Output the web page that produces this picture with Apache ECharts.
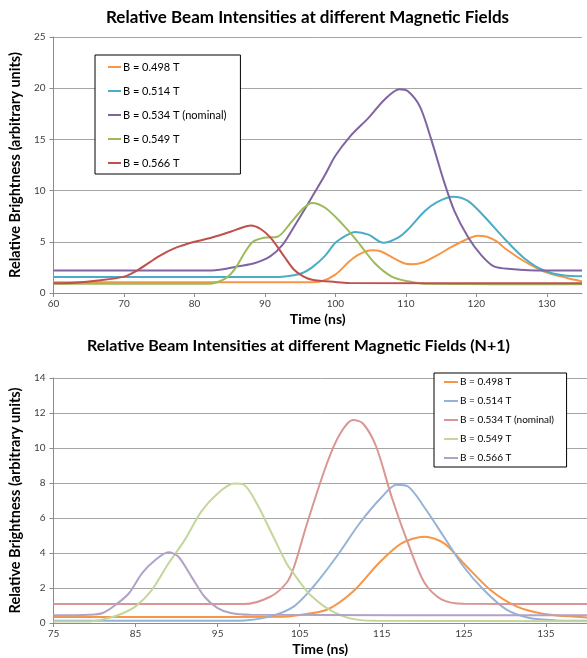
<!DOCTYPE html>
<html>
<head>
<meta charset="utf-8">
<script src="https://cdn.jsdelivr.net/npm/echarts@6/dist/echarts.min.js"></script>
<style>html,body{margin:0;padding:0;background:#fff}#c{width:587px;height:658px}</style>
</head>
<body>
<div id="c"></div>
<script>
// ---------- Chart 1: Relative Beam Intensities at different Magnetic Fields ----------
const title1 = 'Relative Beam Intensities at different Magnetic Fields';
const title2 = 'Relative Beam Intensities at different Magnetic Fields (N+1)';
const seriesNames = ['B = 0.498 T', 'B = 0.514 T', 'B = 0.534 T (nominal)', 'B = 0.549 T', 'B = 0.566 T'];

const top498X = [60, 70, 80, 90, 96, 98, 100, 102, 103.3, 105.2, 106.5, 108, 110, 111, 112.5, 114.5, 116.5, 118.5, 120.2, 121.5, 123, 124, 126.8, 129.6, 132.9, 135];
const top498Y = [1.05, 1.05, 1.05, 1.05, 1.05, 1.15, 1.8, 3.1, 3.75, 4.17, 4.05, 3.5, 2.85, 2.8, 3.0, 3.7, 4.5, 5.2, 5.6, 5.5, 5.0, 4.4, 3.1, 2.1, 1.47, 1.14];

const top514X = [60, 80, 92, 93.9, 95.5, 96.7, 98.5, 100, 101.5, 102.8, 104.7, 106.8, 108.9, 110.3, 112.7, 114.5, 116.7, 118.8, 121.1, 124, 126.8, 129.6, 132.5, 135];
const top514Y = [1.56, 1.56, 1.56, 1.7, 2.0, 2.5, 3.6, 4.9, 5.6, 5.96, 5.7, 4.9, 5.4, 6.2, 8.0, 8.9, 9.4, 9.0, 7.5, 5.3, 3.4, 2.2, 1.7, 1.63];

const top534X = [60, 82, 84.3, 86.2, 88.5, 90.8, 92.5, 93.9, 95.5, 96.7, 98.5, 100, 102.1, 104.7, 107, 109.1, 110.3, 112, 113.6, 115.5, 116.9, 118.8, 120.7, 122.5, 124.9, 129.6, 135];
const top534Y = [2.2, 2.2, 2.35, 2.6, 2.9, 3.6, 4.7, 6.2, 8.0, 9.4, 11.5, 13.4, 15.3, 17.1, 18.9, 19.9, 19.7, 18.2, 15.0, 10.7, 8.0, 5.5, 3.7, 2.6, 2.35, 2.2, 2.2];

const top549X = [60, 82, 84.3, 85.7, 87.1, 88.3, 89.9, 91.8, 93.6, 95.5, 96.7, 98.6, 100.9, 103.3, 105.6, 108, 110.3, 112.7, 135];
const top549Y = [0.9, 0.9, 1.37, 2.3, 3.9, 5.0, 5.4, 5.5, 6.8, 8.3, 8.8, 8.3, 6.8, 4.9, 2.9, 1.6, 1.14, 0.9, 0.85];

const top566X = [60, 63, 66, 70, 72.1, 75, 77.3, 80, 82.4, 85.2, 86.6, 88, 89.4, 90.8, 92.7, 94.1, 95.5, 96.7, 100, 101.9, 135];
const top566Y = [0.95, 1.0, 1.2, 1.6, 2.3, 3.6, 4.4, 5.0, 5.4, 6.0, 6.35, 6.6, 6.25, 5.4, 3.6, 2.3, 1.6, 1.3, 1.07, 0.98, 0.95];

// ---------- Chart 2: (N+1) ----------
const bot498X = [75, 90, 103, 104.3, 108.3, 111.5, 114.6, 117.4, 120.2, 122.6, 125, 128.2, 131.4, 134.6, 137.8, 140];
const bot498Y = [0.34, 0.34, 0.36, 0.42, 0.76, 1.8, 3.4, 4.55, 4.93, 4.55, 3.4, 1.9, 0.95, 0.53, 0.38, 0.32];

const bot514X = [75, 97.4, 101.4, 104.3, 106.7, 109.5, 112.3, 115, 116.8, 118.2, 120.2, 122.6, 125, 127.4, 130.2, 133, 136.2, 140];
const bot514Y = [0.13, 0.13, 0.38, 0.95, 2.1, 3.8, 5.7, 7.2, 7.9, 7.8, 6.6, 4.9, 3.2, 1.9, 0.76, 0.28, 0.15, 0.13];

const bot534X = [75, 98.2, 101.4, 103.4, 104.3, 105.9, 108.3, 109.9, 111.5, 112.7, 114.3, 116.2, 118.2, 120.2, 122.2, 125, 140];
const bot534Y = [1.08, 1.08, 1.5, 2.3, 3.2, 5.7, 9.1, 10.8, 11.6, 11.4, 10.1, 7.2, 4.55, 2.3, 1.37, 1.1, 1.08];

const bot549X = [75, 79, 81, 83, 85, 87, 89, 91, 93, 95, 97, 98.2, 99.8, 101.4, 103.4, 104.3, 105.4, 106.3, 108.3, 111, 114.2, 140];
const bot549Y = [0.08, 0.08, 0.2, 0.47, 0.95, 1.9, 3.4, 4.75, 6.36, 7.4, 7.97, 7.9, 6.8, 5.3, 3.4, 2.8, 2.1, 1.6, 0.85, 0.28, 0.13, 0.1];

const bot566X = [75, 79.4, 81, 82.6, 84.2, 85.8, 87.4, 89, 90.2, 91.8, 93.4, 95, 96.6, 99, 140];
const bot566Y = [0.44, 0.47, 0.57, 1.05, 1.7, 2.85, 3.6, 4.04, 3.8, 2.65, 1.5, 0.85, 0.57, 0.47, 0.44];

const topXTicks = { min: 60, max: 135, interval: 10 };
const topYTicks = { min: 0, max: 25, interval: 5 };
const botXLabels = [75, 85, 95, 105, 115, 125, 135];
const botYTicks = { min: 0, max: 14, interval: 2 };

const topColors = ['#F79646', '#4BACC6', '#8064A2', '#9BBB59', '#C0504D'];
const botColors = ['#F79646', '#95B3D7', '#D99694', '#C3D69B', '#B3A2C7'];

const zip = (xs, ys) => xs.map((x, i) => [x, ys[i]]);
const topData = [zip(top498X, top498Y), zip(top514X, top514Y), zip(top534X, top534Y), zip(top549X, top549Y), zip(top566X, top566Y)];
const botData = [zip(bot498X, bot498Y), zip(bot514X, bot514Y), zip(bot534X, bot534Y), zip(bot549X, bot549Y), zip(bot566X, bot566Y)];

const FONT = 'Lato, "Open Sans", sans-serif';
const axisLabelStyle = { fontFamily: FONT, fontSize: 10, color: '#404040' };
const nameStyle = { fontFamily: FONT, fontSize: 14.5, fontWeight: 'bold', color: '#000' };
const xNameStyle = { fontFamily: FONT, fontSize: 14, fontWeight: 'bold', color: '#000' };
const axisLineStyle = { lineStyle: { color: '#8c8c8c', width: 1 } };
const tickStyle = { show: true, length: 4, inside: false, lineStyle: { color: '#8c8c8c' } };
const splitStyle = { show: true, lineStyle: { color: '#a6a6a6', width: 1 } };

const chart = echarts.init(document.getElementById('c'), null, { renderer: 'canvas' });

const series = [];
seriesNames.forEach((n, i) => {
  series.push({
    name: n, type: 'line', xAxisIndex: 0, yAxisIndex: 0, data: topData[i],
    showSymbol: false, smooth: 0.3, lineStyle: { width: 2, color: topColors[i] }, itemStyle: { color: topColors[i] }
  });
});
seriesNames.forEach((n, i) => {
  series.push({
    name: n + ' ', type: 'line', xAxisIndex: 1, yAxisIndex: 1, data: botData[i],
    showSymbol: false, smooth: 0.3, lineStyle: { width: 2, color: botColors[i] }, itemStyle: { color: botColors[i] }
  });
});

chart.setOption({
  animation: false,
  backgroundColor: '#fff',
  title: [
    { text: title1, left: 106, top: 9, padding: 0, textStyle: { fontFamily: FONT, fontSize: 17, fontWeight: 'bold', color: '#000' } },
    { text: title2, left: 87, top: 338, padding: 0, textStyle: { fontFamily: FONT, fontSize: 16, fontWeight: 'bold', color: '#000' } }
  ],
  grid: [
    { left: 47, right: 5, top: 37, bottom: 365, containLabel: false },
    { left: 47, right: 0, top: 378, bottom: 35, containLabel: false }
  ],
  legend: [
    {
      data: seriesNames, orient: 'vertical', left: 95, top: 55,
      padding: [5, 14, 4, 13], itemGap: 10, itemWidth: 13, itemHeight: 2, icon: 'rect',
      borderColor: '#000', borderWidth: 1, backgroundColor: '#fff',
      textStyle: { fontFamily: FONT, fontSize: 11, color: '#000', lineHeight: 14, padding: [0, 0, 0, -3] }
    },
    {
      data: seriesNames.map(n => n + ' '), orient: 'vertical', left: 434, top: 373,
      padding: [3, 10, 3, 10], itemGap: 7, itemWidth: 14, itemHeight: 2, icon: 'rect',
      borderColor: '#000', borderWidth: 1, backgroundColor: '#fff',
      textStyle: { fontFamily: FONT, fontSize: 10, color: '#000', lineHeight: 12, padding: [0, 0, 0, -3] }
    }
  ],
  xAxis: [
    {
      type: 'value', gridIndex: 0, min: topXTicks.min, max: topXTicks.max, interval: topXTicks.interval,
      name: 'Time (ns)', nameLocation: 'middle', nameGap: 19, nameTextStyle: xNameStyle,
      axisLine: axisLineStyle, axisTick: tickStyle, splitLine: { show: false },
      axisLabel: Object.assign({ margin: 6, showMaxLabel: false }, axisLabelStyle)
    },
    {
      type: 'value', gridIndex: 1, min: 75, max: 140,
      name: 'Time (ns)', nameLocation: 'middle', nameGap: 19, nameTextStyle: xNameStyle,
      axisLine: axisLineStyle, axisTick: Object.assign({ customValues: botXLabels }, tickStyle), splitLine: { show: false },
      axisLabel: Object.assign({ margin: 6, customValues: botXLabels }, axisLabelStyle)
    }
  ],
  yAxis: [
    {
      type: 'value', gridIndex: 0, min: topYTicks.min, max: topYTicks.max, interval: topYTicks.interval,
      name: 'Relative Brightness (arbitrary units)', nameLocation: 'middle', nameRotate: 90, nameGap: 22, nameTextStyle: nameStyle,
      axisLine: Object.assign({ show: true }, axisLineStyle), axisTick: tickStyle, splitLine: splitStyle,
      axisLabel: Object.assign({ margin: 8 }, axisLabelStyle)
    },
    {
      type: 'value', gridIndex: 1, min: botYTicks.min, max: botYTicks.max, interval: botYTicks.interval,
      name: 'Relative Brightness (arbitrary units)', nameLocation: 'middle', nameRotate: 90, nameGap: 22, nameTextStyle: nameStyle,
      axisLine: Object.assign({ show: true }, axisLineStyle), axisTick: tickStyle, splitLine: splitStyle,
      axisLabel: Object.assign({ margin: 8 }, axisLabelStyle)
    }
  ],
  series: series
});
</script>
</body>
</html>
